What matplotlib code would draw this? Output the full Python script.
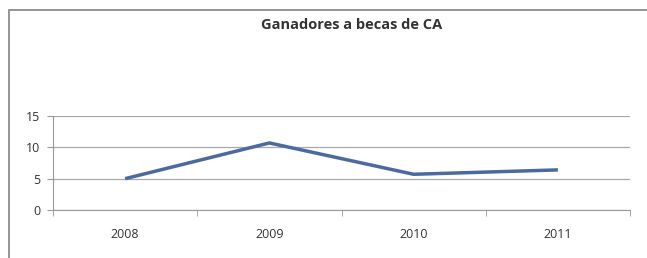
import matplotlib
matplotlib.use("Agg")
import matplotlib.pyplot as plt
from matplotlib.patches import Rectangle

years = ["2008", "2009", "2010", "2011"]
ganadores = [5.0, 10.7, 5.7, 6.4]
yticks = [0, 5, 10, 15]
title = "Ganadores a becas de CA"

plt.rcParams['font.family'] = ['Open Sans', 'DejaVu Sans']

fig = plt.figure(figsize=(6.47, 2.58), dpi=100)
fig.patch.set_facecolor("white")

# chart frame
fig.add_artist(Rectangle((9/647, -0.05), 1.0, 1 - 10/258 + 0.05, transform=fig.transFigure,
                         fill=False, edgecolor="#8c8c8c", linewidth=1.3))

ax = fig.add_axes([53/647, 48/258, 577/647, 94/258])
x = list(range(len(years)))
ax.plot(x, ganadores, color="#4a6aa0", linewidth=2.5, solid_capstyle="butt")
ax.set_xlim(-0.5, len(years) - 0.5)
ax.set_ylim(0, 15)
ax.set_yticks(yticks)
ax.set_yticklabels([str(v) for v in yticks], fontsize=9, color="#333333")
ax.set_xticks(x)
ax.set_xticklabels(years, fontsize=9, color="#333333")
ax.tick_params(axis='x', length=0, pad=13)
ax.tick_params(axis='y', length=4, color="#999999", pad=5)
ax.set_xticks([i + 0.5 for i in range(len(years) - 1)] + [-0.5, len(years) - 0.5], minor=True)
ax.tick_params(axis='x', which='minor', length=4, color="#999999", direction='out')
ax.grid(axis='y', color="#a8a8a8", linewidth=0.9)
ax.set_axisbelow(True)
for s in ["top", "right"]:
    ax.spines[s].set_visible(False)
ax.spines["left"].set_color("#999999")
ax.spines["bottom"].set_color("#999999")

fig.text(352/647, 1 - 25/258, title, ha="center", va="center", fontsize=10.5,
         fontweight="bold", color="#333333")

fig.savefig("out.png", dpi=100, facecolor="white")
